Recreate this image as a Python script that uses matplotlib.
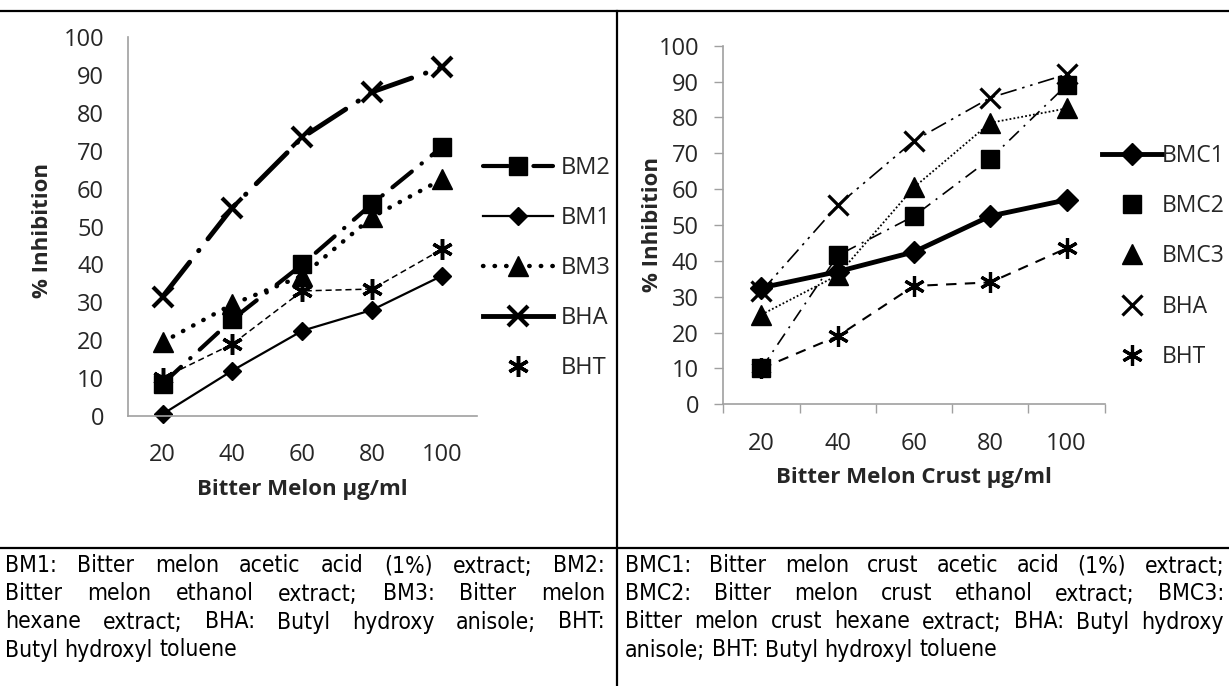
import matplotlib
matplotlib.use('Agg')
import matplotlib.pyplot as plt
from matplotlib.lines import Line2D
from matplotlib import font_manager
import numpy as np

# doses (x categories)
doses = ['20', '40', '60', '80', '100']

# left panel - bitter melon extracts (% inhibition)
bm2 = [8.5, 25.5, 40, 56, 71]
bm1 = [0.5, 12, 22.5, 28, 37]
bm3 = [19.5, 29.5, 37, 52.5, 62.5]
bha = [31.5, 55, 73.5, 85.5, 92]
bht = [10, 19, 33, 33.5, 44]

# right panel - bitter melon crust extracts (% inhibition)
bmc1 = [32.5, 37, 42.5, 52.5, 57]
bmc2 = [10, 41.5, 52.5, 68.5, 89]
bmc3 = [25, 36, 60.5, 78.5, 82.5]
bha_c = [31.5, 55.5, 73.5, 85.5, 92]
bht_c = [10, 19, 33, 34, 43.5]

caption_left = [
    "BM1: Bitter melon acetic acid (1%) extract; BM2:",
    "Bitter melon ethanol extract; BM3: Bitter melon",
    "hexane extract; BHA: Butyl hydroxy anisole; BHT:",
    "Butyl hydroxyl toluene",
]
caption_right = [
    "BMC1: Bitter melon crust acetic acid (1%) extract;",
    "BMC2: Bitter melon crust ethanol extract; BMC3:",
    "Bitter melon crust hexane extract; BHA: Butyl hydroxy",
    "anisole; BHT: Butyl hydroxyl toluene",
]

# fonts
names = {f.name for f in font_manager.fontManager.ttflist}
main_font = 'Open Sans' if 'Open Sans' in names else 'DejaVu Sans'
cap_stretch = 'normal'
if 'Liberation Sans Narrow' in names:
    cap_font = 'Liberation Sans Narrow'
elif any(f.name == 'DejaVu Sans' and f.stretch == 'condensed' for f in font_manager.fontManager.ttflist):
    cap_font = 'DejaVu Sans'
    cap_stretch = 'condensed'
else:
    cap_font = main_font
plt.rcParams['font.family'] = [main_font, 'DejaVu Sans']

W, H = 1229, 686
fig = plt.figure(figsize=(W / 100, H / 100), dpi=100)


def px_box(l, t, r, b):
    return [l / W, 1 - b / H, (r - l) / W, (b - t) / H]


ax1 = fig.add_axes(px_box(127.7, 37, 477, 416))
ax2 = fig.add_axes(px_box(723.3, 45.7, 1104.7, 404.3))
x = np.arange(len(doses))
axis_grey = '#a0a0a0'
text_col = '#262626'
star = (6, 2, 0)
tick_fs = 17
label_fs = 16
legend_fs = 17

# ---- left chart
l_bm2, = ax1.plot(x, bm2, color='k', lw=3, ls=(0, (6, 3, 0.1, 3)), dash_capstyle='round',
                  marker='s', ms=13, label='BM2', clip_on=False)
l_bm1, = ax1.plot(x, bm1, color='k', lw=1.6, marker='D', ms=9, label='BM1', clip_on=False)
l_bm3, = ax1.plot(x, bm3, color='k', lw=3.2, ls=(0, (0.1, 2.5)), dash_capstyle='round',
                  marker='^', ms=14, label='BM3', clip_on=False)
l_bha, = ax1.plot(x, bha, color='k', lw=3.5, ls=(0, (9, 3, 0.1, 3)), dash_capstyle='round',
                  marker='x', ms=15, mew=3, label='BHA', clip_on=False)
l_bht, = ax1.plot(x, bht, color='k', lw=1.1, ls=(0, (4, 2.5)),
                  marker=star, ms=15, mew=2.5, label='BHT', clip_on=False)
bha_key = Line2D([], [], color='k', lw=3.5, marker='x', ms=15, mew=3)
bht_key = Line2D([], [], ls='none', color='k', marker=star, ms=15, mew=2.5)

ax1.set_xlim(-0.5, 4.5)
ax1.set_ylim(0, 100)
ax1.set_xticks(x)
ax1.set_xticklabels(doses)
ax1.set_yticks(np.arange(0, 101, 10))
ax1.tick_params(axis='both', length=0, labelsize=tick_fs, labelcolor=text_col)
ax1.tick_params(axis='x', pad=19.5)
ax1.tick_params(axis='y', pad=17)
ax1.set_xlabel('Bitter Melon µg/ml', fontsize=label_fs, fontweight='bold', color=text_col)
ax1.set_ylabel('% Inhibition', fontsize=label_fs, fontweight='bold', color=text_col)
ax1.xaxis.set_label_coords(0.5, -0.167)
ax1.yaxis.set_label_coords(-0.215, 0.49)
ax1.legend([l_bm2, l_bm1, l_bm3, bha_key, bht_key], ['BM2', 'BM1', 'BM3', 'BHA', 'BHT'],
           loc='center left', bbox_to_anchor=(483 / W, 1 - 268 / H),
           bbox_transform=fig.transFigure, frameon=False, fontsize=legend_fs, borderpad=0,
           borderaxespad=0, handlelength=2.97, handletextpad=0.34, labelspacing=1.1,
           numpoints=1, labelcolor=text_col)

# ---- right chart
r_bmc1, = ax2.plot(x, bmc1, color='k', lw=3.5, marker='D', ms=11, label='BMC1', clip_on=False)
r_bmc2, = ax2.plot(x, bmc2, color='k', lw=1.2, ls=(0, (8, 4, 1.2, 4)),
                   marker='s', ms=13, label='BMC2', clip_on=False)
r_bmc3, = ax2.plot(x, bmc3, color='k', lw=1.3, ls=(0, (1, 1.2)),
                   marker='^', ms=14, label='BMC3', clip_on=False)
r_bha, = ax2.plot(x, bha_c, color='k', lw=1.2, ls=(0, (10, 3.5, 1.5, 3.5, 1.5, 3.5)),
                  marker='x', ms=15, mew=2.3, label='BHA', clip_on=False)
r_bht, = ax2.plot(x, bht_c, color='k', lw=1.5, ls=(0, (5, 4)),
                  marker=star, ms=15, mew=2.3, label='BHT', clip_on=False)
keys = [r_bmc1,
        Line2D([], [], ls='none', color='k', marker='s', ms=13),
        Line2D([], [], ls='none', color='k', marker='^', ms=14),
        Line2D([], [], ls='none', color='k', marker='x', ms=15, mew=2.3),
        Line2D([], [], ls='none', color='k', marker=star, ms=15, mew=2.3)]

ax2.set_xlim(-0.5, 4.5)
ax2.set_ylim(0, 100)
ax2.set_xticks(np.arange(-0.5, 5, 1))
ax2.set_xticklabels([])
ax2.set_xticks(x, minor=True)
ax2.set_xticklabels(doses, minor=True)
ax2.set_yticks(np.arange(0, 101, 10))
ax2.tick_params(axis='both', which='major', length=6.5, width=1, color=axis_grey,
                labelsize=tick_fs, labelcolor=text_col)
ax2.tick_params(axis='x', which='minor', length=0, pad=20, labelsize=tick_fs, labelcolor=text_col)
ax2.tick_params(axis='y', pad=11)
ax2.set_xlabel('Bitter Melon Crust µg/ml', fontsize=label_fs, fontweight='bold', color=text_col)
ax2.set_ylabel('% Inhibition', fontsize=label_fs, fontweight='bold', color=text_col)
ax2.xaxis.set_label_coords(0.5, -0.176)
ax2.yaxis.set_label_coords(-0.158, 0.5)
ax2.legend(keys, ['BMC1', 'BMC2', 'BMC3', 'BHA', 'BHT'],
           loc='center left', bbox_to_anchor=(1102 / W, 1 - 256.5 / H),
           bbox_transform=fig.transFigure, frameon=False, fontsize=16.5, borderpad=0,
           borderaxespad=0, handlelength=2.62, handletextpad=0.0, labelspacing=1.15,
           numpoints=1, labelcolor=text_col)

for ax in (ax1, ax2):
    for s in ('top', 'right'):
        ax.spines[s].set_visible(False)
    for s in ('left', 'bottom'):
        ax.spines[s].set_color(axis_grey)
        ax.spines[s].set_linewidth(1.2)

# ---- table rules
rule = dict(transform=fig.transFigure, color='k', lw=1.6)
fig.add_artist(Line2D([0, 1], [1 - 11 / H] * 2, **rule))
fig.add_artist(Line2D([617 / W] * 2, [1 - 11 / H, 0], **rule))
fig.add_artist(Line2D([0, 1], [1 - 548 / H] * 2, **rule))

# ---- justified captions
renderer = fig.canvas.get_renderer()
cap_fs = 16.5


def word_text(s, y):
    return fig.text(0, y, s, fontsize=cap_fs, family=[cap_font, 'DejaVu Sans'],
                    fontstretch=cap_stretch, va='center', ha='left', color='k')


probe = word_text('a a', 0)
probe2 = word_text('aa', 0)
space_w = probe.get_window_extent(renderer).width - probe2.get_window_extent(renderer).width
probe.remove()
probe2.remove()


def justify(lines, x0, x1, y0, step):
    for i, line in enumerate(lines):
        y = 1 - (y0 + i * step) / H
        words = line.split()
        ts = [word_text(w, y) for w in words]
        widths = [t.get_window_extent(renderer).width for t in ts]
        if i < len(lines) - 1:
            gap = (x1 - x0 - sum(widths)) / (len(words) - 1)
        else:
            gap = space_w
        xx = x0
        for t, w in zip(ts, widths):
            t.set_x(xx / W)
            xx += w + gap


justify(caption_left, 5, 605, 566, 28)
justify(caption_right, 625, 1224, 566, 28)

fig.savefig('out.png', dpi=100)
